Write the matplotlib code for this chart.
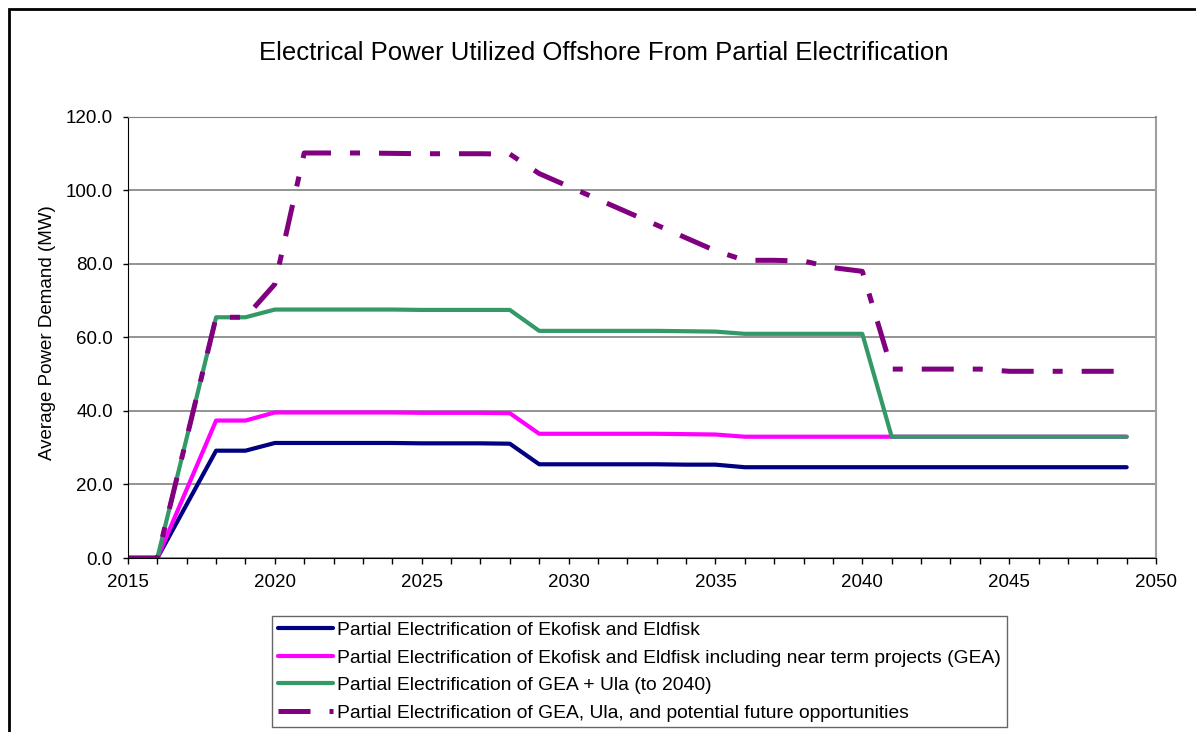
import numpy as np
import matplotlib
matplotlib.use("Agg")
import matplotlib.pyplot as plt
from matplotlib.patches import Rectangle
from matplotlib.ticker import MultipleLocator, FormatStrFormatter

plt.rcParams['font.family'] = ['Liberation Sans', 'DejaVu Sans']

# --- data ---
years = list(range(2015, 2050))

ekofisk_eldfisk = [0, 0, 14.6, 29.2, 29.2, 31.3, 31.3, 31.3, 31.3, 31.3,
                   31.2, 31.2, 31.2, 31.1, 25.5, 25.5, 25.5, 25.5, 25.5, 25.4,
                   25.4, 24.7, 24.7, 24.7, 24.7, 24.7, 24.7, 24.7, 24.7, 24.7,
                   24.7, 24.7, 24.7, 24.7, 24.7]
with_gea = [0, 0, 18.7, 37.4, 37.4, 39.6, 39.6, 39.6, 39.6, 39.6,
            39.5, 39.5, 39.5, 39.4, 33.8, 33.8, 33.8, 33.8, 33.8, 33.7,
            33.6, 33.0, 33.0, 33.0, 33.0, 33.0, 33.0, 33.0, 33.0, 33.0,
            33.0, 33.0, 33.0, 33.0, 33.0]
gea_ula = [0, 0, 32.7, 65.5, 65.5, 67.6, 67.6, 67.6, 67.6, 67.6,
           67.5, 67.5, 67.5, 67.5, 61.8, 61.8, 61.8, 61.8, 61.8, 61.7,
           61.6, 61.0, 61.0, 61.0, 61.0, 61.0, 33.0, 33.0, 33.0, 33.0,
           33.0, 33.0, 33.0, 33.0, 33.0]
gea_ula_future = [0, 0, 32.7, 65.5, 65.5, 74.5, 110.2, 110.2, 110.2, 110.1,
                  110.0, 110.0, 110.0, 109.9, 104.6, 101.1, 97.6, 94.1, 90.6, 87.1,
                  83.6, 81.0, 81.0, 80.8, 79.0, 78.0, 51.4, 51.4, 51.4, 51.4,
                  50.8, 50.8, 50.8, 50.8, 50.8]

labels = [
    "Partial Electrification of Ekofisk and Eldfisk",
    "Partial Electrification of Ekofisk and Eldfisk including near term projects (GEA)",
    "Partial Electrification of GEA + Ula (to 2040)",
    "Partial Electrification of GEA, Ula, and potential future opportunities",
]

fs = 13.5

fig = plt.figure(figsize=(11.96, 7.32), dpi=100)
ax = fig.add_axes([0.107, 0.2377, 0.8596, 0.6025])

ax.plot(years, ekofisk_eldfisk, color='#000080', lw=3.0, solid_capstyle='round',
        solid_joinstyle='round', label=labels[0])
ax.plot(years, with_gea, color='#FF00FF', lw=3.0, solid_capstyle='round',
        solid_joinstyle='round', label=labels[1])
ax.plot(years, gea_ula, color='#339966', lw=3.0, solid_capstyle='round',
        solid_joinstyle='round', label=labels[2])
ax.plot(years, gea_ula_future, color='#800080', lw=3.6,
        linestyle=(0, (6.4, 3.8, 2.0, 3.8)), dash_capstyle='butt',
        label=labels[3])

ax.set_xlim(2015, 2050)
ax.set_ylim(0, 120)
ax.xaxis.set_major_locator(MultipleLocator(5))
ax.xaxis.set_minor_locator(MultipleLocator(1))
ax.yaxis.set_major_locator(MultipleLocator(20))
ax.yaxis.set_major_formatter(FormatStrFormatter('%.1f'))

ax.grid(axis='y', color='#808080', lw=1.2)
ax.set_axisbelow(True)
ax.tick_params(axis='both', labelsize=fs, colors='black', width=1)
ax.tick_params(axis='x', which='major', length=4.3, pad=7)
ax.tick_params(axis='x', which='minor', length=4.3, width=1)
ax.tick_params(axis='y', length=3.8, pad=7)

ax.spines['left'].set_color('black')
ax.spines['bottom'].set_color('black')
ax.spines['top'].set_color('#808080')
ax.spines['right'].set_color('#a0a0a0')
ax.spines['right'].set_linewidth(1.5)

ax.set_ylabel("Average Power Demand (MW)", fontsize=fs)
ax.yaxis.set_label_coords(-0.070, 0.51)

fig.text(0.505, 0.928, "Electrical Power Utilized Offshore From Partial Electrification",
         ha='center', va='center', fontsize=18.5)

leg = fig.legend(loc='upper left', bbox_to_anchor=(0.2274, 0.1585),
                 bbox_transform=fig.transFigure, fontsize=13.85, frameon=True,
                 fancybox=False, shadow=False, borderaxespad=0, borderpad=0.3,
                 handlelength=2.88, handletextpad=0.2, labelspacing=0.52)
leg.get_frame().set_edgecolor('#404040')
leg.get_frame().set_linewidth(1.0)

# outer chart frame, cut by the right and bottom edges of the image
fig.add_artist(Rectangle((9 / 1196, -0.1), 1.2, 1.1 - 9 / 732, transform=fig.transFigure,
                         fill=False, edgecolor='black', lw=2))

fig.savefig("out.png", dpi=100)
